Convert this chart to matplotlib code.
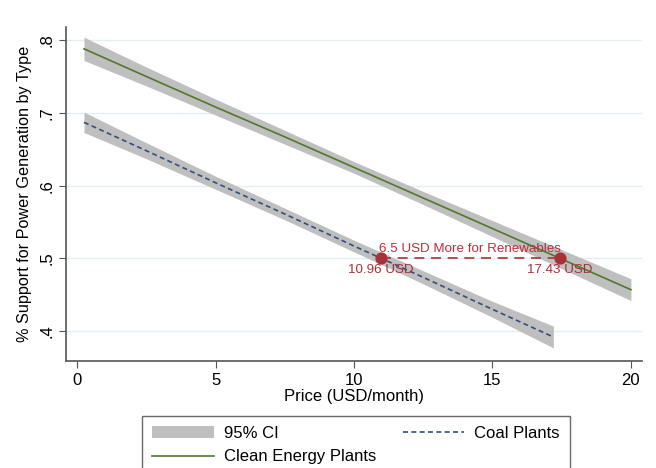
import matplotlib
matplotlib.use("Agg")
import matplotlib.pyplot as plt
from matplotlib.patches import Patch
from matplotlib.lines import Line2D

plt.rcParams['font.family'] = ['Liberation Sans', 'DejaVu Sans']

# Clean energy plants: fitted line and 95% CI
clean_x = [0.25, 2.5, 5, 7.5, 10, 12.5, 15, 17.5, 20]
clean_y = [0.788, 0.750, 0.708, 0.667, 0.625, 0.583, 0.541, 0.499, 0.457]
clean_lo = [0.772, 0.737, 0.697, 0.657, 0.617, 0.574, 0.530, 0.486, 0.442]
clean_hi = [0.804, 0.763, 0.719, 0.676, 0.633, 0.592, 0.552, 0.512, 0.472]

# Coal plants: fitted line and 95% CI
coal_x = [0.25, 2.5, 5, 7.5, 10, 12.5, 15, 17.2]
coal_y = [0.687, 0.648, 0.604, 0.561, 0.517, 0.474, 0.430, 0.392]
coal_lo = [0.673, 0.637, 0.595, 0.553, 0.509, 0.465, 0.419, 0.377]
coal_hi = [0.701, 0.659, 0.613, 0.569, 0.525, 0.483, 0.441, 0.407]

# Annotation points
ann_x = [10.96, 17.43]
ann_y = [0.5, 0.5]
ann_labels = ["10.96 USD", "17.43 USD"]
ann_title = "6.5 USD More for Renewables"

xticks = [0, 5, 10, 15, 20]
yticks = [0.4, 0.5, 0.6, 0.7, 0.8]
ytick_labels = [".4", ".5", ".6", ".7", ".8"]

ci_color = "#bfbfbf"
green = "#4f7a28"
blue = "#2f5080"
red = "#a83038"
red_txt = "#c42a3a"

fig = plt.figure(figsize=(6.56, 4.68), dpi=100)
ax = fig.add_axes([66/656, 1-361/468, (642-66)/656, (361-27)/468])

ax.fill_between(clean_x, clean_lo, clean_hi, color=ci_color, lw=0, zorder=2)
ax.fill_between(coal_x, coal_lo, coal_hi, color=ci_color, lw=0, zorder=2)
ax.plot(clean_x, clean_y, color=green, lw=1.2, zorder=3)
ax.plot(coal_x, coal_y, color=blue, lw=1.2, ls=(0, (3, 2)), zorder=3)

ax.plot(ann_x, ann_y, color=red, lw=1.2, ls=(0, (6, 4)), zorder=4)
ax.scatter(ann_x, ann_y, s=60, color=red, zorder=5)
ax.text(sum(ann_x)/2, 0.505, ann_title, color=red_txt, fontsize=9.6,
        ha='center', va='bottom', zorder=6)
for x, lab in zip(ann_x, ann_labels):
    ax.text(x, 0.492, lab, color=red, fontsize=9.6, ha='center', va='top', zorder=6)

ax.set_xlim(-0.4, 20.4)
ax.set_ylim(0.359, 0.818)
ax.set_xticks(xticks)
ax.set_xticklabels([str(t) for t in xticks])
ax.set_yticks(yticks)
ax.set_yticklabels(ytick_labels, rotation=90, va='center')
ax.tick_params(axis='both', labelsize=12, color='#555555', length=5)
ax.grid(axis='y', color='#e4eef2', lw=1, zorder=0)
ax.set_axisbelow(True)
for s in ['top', 'right']:
    ax.spines[s].set_visible(False)
for s in ['left', 'bottom']:
    ax.spines[s].set_color('#555555')
    ax.spines[s].set_linewidth(1.2)

ax.set_xlabel("Price (USD/month)", fontsize=12, labelpad=1)
ax.set_ylabel("% Support for Power Generation by Type", fontsize=11.7, labelpad=5)

handles = [Patch(facecolor=ci_color, edgecolor='none', label="95% CI"),
           Line2D([], [], color=green, lw=1.2, label="Clean Energy Plants"),
           Line2D([], [], color=blue, lw=1.2, ls=(0, (3, 2)), label="Coal Plants")]
leg = fig.legend(handles=handles, loc='upper left', bbox_to_anchor=(142/656, 1-416/468),
                 ncol=2, fontsize=12, frameon=True, fancybox=False, edgecolor='#444444',
                 borderpad=0.6, handlelength=3.7, columnspacing=1.6, labelspacing=0.5,
                 handletextpad=0.6, borderaxespad=0)
leg.get_frame().set_linewidth(1.0)

fig.savefig("out.png", dpi=100)
